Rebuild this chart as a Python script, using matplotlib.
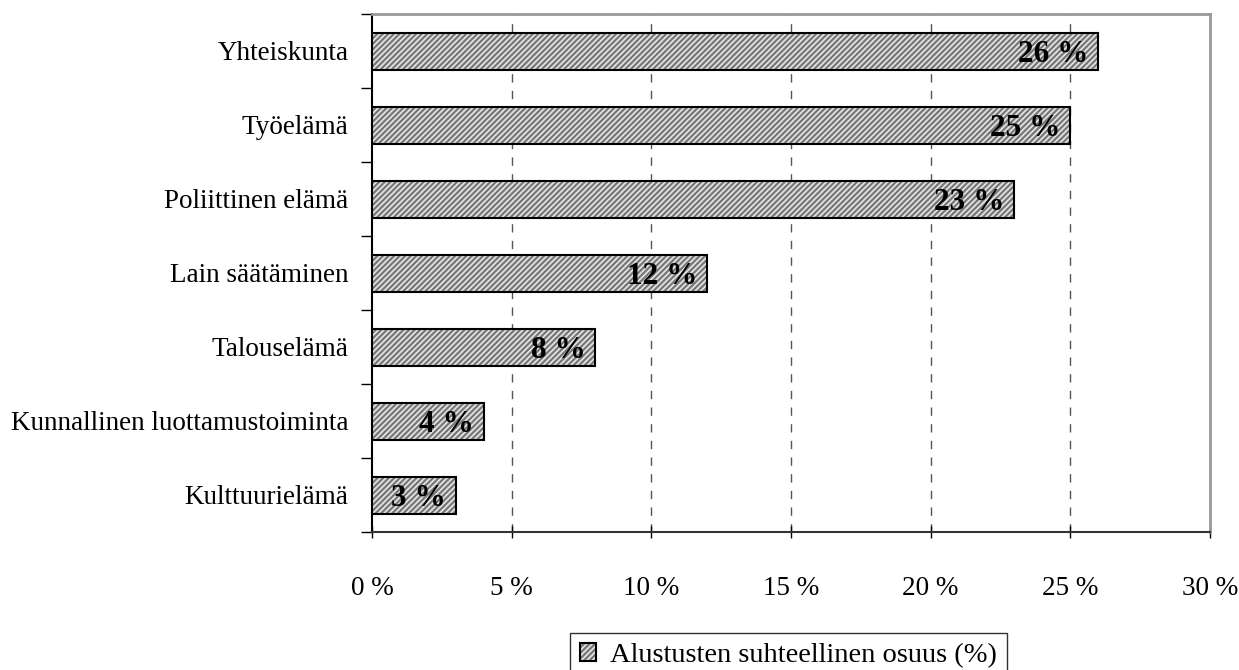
import matplotlib
matplotlib.use("Agg")
import matplotlib.pyplot as plt
from matplotlib.ticker import FixedLocator

categories = ["Yhteiskunta", "Työelämä", "Poliittinen elämä", "Lain säätäminen",
              "Talouselämä", "Kunnallinen luottamustoiminta", "Kulttuurielämä"]
values = [26, 25, 23, 12, 8, 4, 3]
bar_labels = ["26 %", "25 %", "23 %", "12 %", "8 %", "4 %", "3 %"]
xtick_values = [0, 5, 10, 15, 20, 25, 30]
xtick_labels = ["0 %", "5 %", "10 %", "15 %", "20 %", "25 %", "30 %"]
legend_label = "Alustusten suhteellinen osuus (%)"

plt.rcParams['font.family'] = ['Liberation Serif', 'DejaVu Serif']
plt.rcParams['hatch.linewidth'] = 1.6

fig = plt.figure(figsize=(12.39, 6.70), dpi=100)
ax = fig.add_axes([372/1239, 1-532/670, (1210-372)/1239, (532-14)/670])

n = len(categories)
ypos = list(range(n))[::-1]

hb = ax.barh(ypos, values, height=0.5, color='#e6e6e6', edgecolor='#777777',
             hatch='//////', linewidth=0, zorder=3)
ob = ax.barh(ypos, values, height=0.5, fill=False, edgecolor='black', linewidth=1.5, zorder=4)

for y, v, lab in zip(ypos, values, bar_labels):
    ax.text(v - 0.35, y, lab, ha='right', va='center_baseline', fontsize=22.5,
            fontweight='bold', zorder=5)

ax.set_xlim(0, 30)
ax.set_ylim(-0.5, n - 0.5)
ax.set_xticks(xtick_values)
ax.set_xticklabels(xtick_labels, fontsize=19.5)
ax.set_yticks(ypos)
ax.set_yticklabels(categories, fontsize=19.5)
ax.tick_params(axis='y', length=0, pad=17)
ax.yaxis.set_minor_locator(FixedLocator([i - 0.5 for i in range(n + 1)]))
ax.tick_params(axis='y', which='minor', length=8, width=1, direction='out')
ax.tick_params(axis='x', length=8, width=1, direction='inout', pad=28)

for x in xtick_values[1:-1]:
    ax.axvline(x, color='#555555', linestyle=(0, (6, 6)), linewidth=1, zorder=1)

ax.spines['left'].set_color('black')
ax.spines['left'].set_linewidth(1.5)
ax.spines['bottom'].set_color('#333333')
ax.spines['bottom'].set_linewidth(1.5)
ax.spines['top'].set_color('#999999')
ax.spines['top'].set_linewidth(2)
ax.spines['right'].set_color('#999999')
ax.spines['right'].set_linewidth(2)

leg = ax.legend(handles=[(hb.patches[0], ob.patches[0])], labels=[legend_label],
                loc='upper center', bbox_to_anchor=(0.497, -0.195),
                frameon=True, fancybox=False, fontsize=20.5, handlelength=0.55,
                handleheight=0.55, handletextpad=0.5, borderpad=0.35,
                borderaxespad=0)
leg.get_frame().set_edgecolor('black')
leg.get_frame().set_linewidth(1)

fig.savefig("out.png", dpi=100)
